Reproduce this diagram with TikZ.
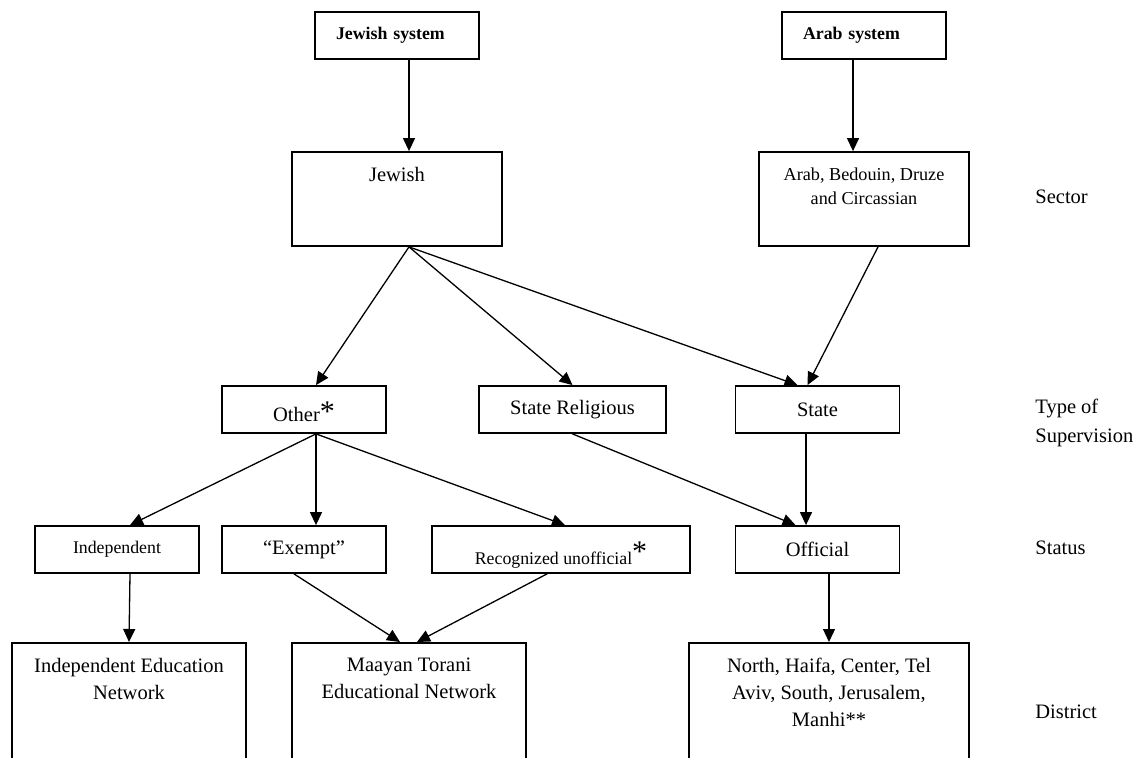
\documentclass[tikz,border=0pt]{standalone}
\usepackage{fontspec}
\setmainfont{Liberation Serif}
\usetikzlibrary{
    arrows.meta, % Filled triangle heads on the links.
    positioning, % Placing texts inside the tall boxes.
}

% Large footnote star used after some labels.
\newcommand{\starmark}{{\fontsize{15}{15}\selectfont *}}

\begin{document}
\begin{tikzpicture}[%
        x = 0.5pt,
        y = -0.5pt,
        line cap = round,
        box/.style = {draw, line width = 0.9pt, minimum height = 23.5pt},
        bigtext/.style = {font = \fontsize{10.25}{13.3}\selectfont, inner sep = 0pt, align = center},
        smalltext/.style = {font = \fontsize{8.9}{12}\selectfont},
        systext/.style = {box, minimum width = 82pt, text width = 61pt, inner xsep = 10.5pt,
            inner ysep = 0pt, align = left, font = \fontsize{8.9}{12}\selectfont\bfseries},
        level/.style = {bigtext, anchor = west, align = left},
        link/.style = {line width = 0.65pt, -{Triangle[length = 6.5pt, width = 6pt]}}
    ]

        % Page frame, the bottom boxes run off it.
        \useasboundingbox (0, 0) rectangle (1145, 758);
        \clip (0, 0) rectangle (1145, 758);

        % The two systems.
        \node[systext] (jsys) at (397, 35.5) {Jewish system};
        \node[systext] (asys) at (864, 35.5) {Arab system};

        % Sector boxes.
        \node[box, minimum width = 105pt, minimum height = 47pt] (jewish) at (397, 199) {};
        \node[bigtext, below = 8pt of jewish.north] (jewishtext) {Jewish};
        \node[box, minimum width = 105pt, minimum height = 47pt] (arab) at (864, 199) {};
        \node[bigtext, font = \fontsize{9.1}{12}\selectfont, below = 8pt of arab.north] (arabtext)
            {Arab, Bedouin, Druze\\and Circassian};

        % Type of supervision.
        \node[box, bigtext, minimum width = 82pt, text height = 12.5pt, text depth = 0pt]
            (other) at (304, 409.5) {Other\starmark};
        \node[box, bigtext, minimum width = 93.5pt] (staterel) at (572.5, 409.5) {State Religious};
        \node[box, bigtext, minimum width = 82pt] (state) at (817.5, 409.5) {State};

        % Status.
        \node[box, bigtext, smalltext, minimum width = 82pt] (indep) at (117, 549.5) {Independent};
        \node[box, bigtext, minimum width = 82pt] (exempt) at (304, 549.5) {“Exempt”};
        \node[box, bigtext, smalltext, minimum width = 129pt, text height = 14.5pt, text depth = 0pt]
            (recog) at (561, 549.5) {Recognized unofficial\raisebox{1.5pt}{\starmark}};
        \node[box, bigtext, minimum width = 82pt] (official) at (817.5, 549.5) {Official};

        % Districts and networks.
        \node[box, anchor = north, minimum width = 117pt, minimum height = 80pt] (indnet) at (129, 642) {};
        \node[bigtext, below = 8pt of indnet.north] (indnettext) {Independent Education\\Network};
        \node[box, anchor = north, minimum width = 117pt, minimum height = 80pt] (maayan) at (409, 642) {};
        \node[bigtext, below = 8pt of maayan.north] (maayantext) {Maayan Torani\\Educational Network};
        \node[box, anchor = north, minimum width = 140pt, minimum height = 80pt] (district) at (829, 642) {};
        \node[bigtext, below = 8pt of district.north] (districttext)
            {North, Haifa, Center, Tel\\Aviv, South, Jerusalem,\\Manhi**};

        % Level names on the right.
        \node[level] (sector) at (1035, 197) {Sector};
        \node[level, font = \fontsize{10.25}{14.5}\selectfont] (supervision) at (1035, 422.5) {Type of\\Supervision};
        \node[level] (status) at (1035, 548) {Status};
        \node[level] (districtlevel) at (1035, 712) {District};

        % Links between the boxes.
        \draw[link] ([xshift = 6pt]jsys.south) -- ([xshift = 6pt]jewish.north);
        \draw[link] ([xshift = -5.5pt]asys.south) -- ([xshift = -5.5pt]arab.north);
        \draw[link] ([xshift = 6pt]jewish.south) -- ([xshift = 6pt]other.north);
        \draw[link] ([xshift = 6pt]jewish.south) -- (staterel.north);
        \draw[link] ([xshift = 6pt]jewish.south) -- ([xshift = -10pt]state.north);
        \draw[link] ([xshift = 7pt]arab.south) -- ([xshift = -5pt]state.north);
        \draw[link] ([xshift = 6pt]other.south) -- ([xshift = 6.5pt]indep.north);
        \draw[link] ([xshift = 6pt]other.south) -- ([xshift = 6pt]exempt.north);
        \draw[link] ([xshift = 6pt]other.south) -- ([xshift = 2pt]recog.north);
        \draw[link] (staterel.south) -- ([xshift = -11pt]official.north);
        \draw[link] ([xshift = -5.75pt]state.south) -- ([xshift = -5.75pt]official.north);
        \draw[link] ([xshift = 6.5pt]indep.south) -- (indnet.north);
        \draw[link] ([xshift = -5pt]exempt.south) -- ([xshift = -4.5pt]maayan.north);
        \draw[link] ([xshift = -7pt]recog.south) -- ([xshift = 4pt]maayan.north);
        \draw[link] ([xshift = 5.75pt]official.south) -- (district.north);
    \end{tikzpicture}
\end{document}
